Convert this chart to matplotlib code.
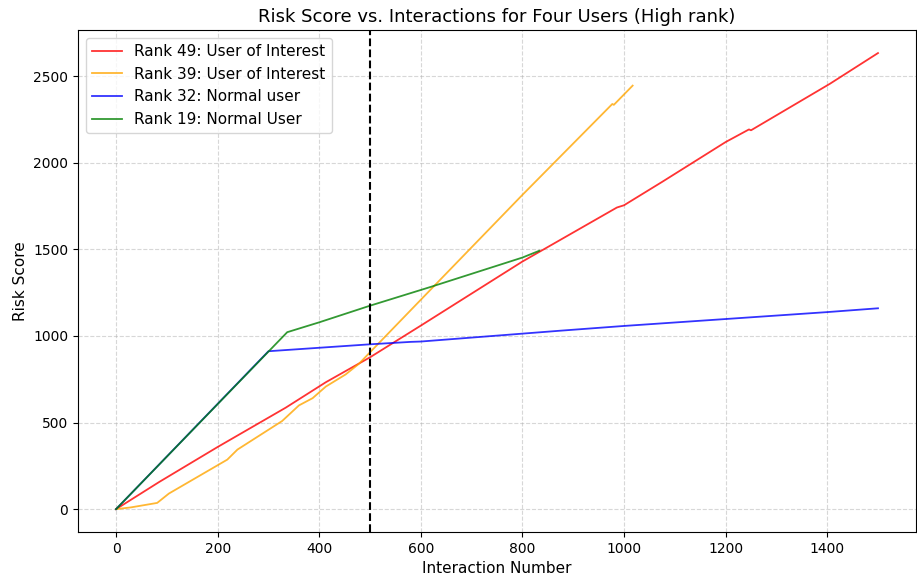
import matplotlib
matplotlib.use("Agg")
import matplotlib.pyplot as plt

rank49_x = [0, 85, 200, 334, 413, 500, 600, 800, 986, 1000, 1075, 1200, 1246, 1250, 1405, 1500]
rank49_y = [0, 157, 359, 586, 733, 877, 1060, 1430, 1742, 1755, 1890, 2120, 2193, 2188, 2456, 2634]

rank39_x = [0, 29, 81, 104, 219, 239, 327, 360, 387, 413, 452, 478, 500, 620, 800, 977, 980, 1017]
rank39_y = [0, 10, 36, 90, 286, 344, 509, 599, 641, 708, 778, 839, 906, 1270, 1815, 2340, 2335, 2446]

rank32_x = [0, 300, 500, 580, 600, 872, 1000, 1200, 1400, 1500]
rank32_y = [0, 912, 952, 966, 968, 1030, 1058, 1098, 1138, 1160]

rank19_x = [0, 337, 400, 500, 620, 800, 833]
rank19_y = [0, 1022, 1079, 1175, 1284, 1453, 1492]

labels = ["Rank 49: User of Interest", "Rank 39: User of Interest",
          "Rank 32: Normal user", "Rank 19: Normal User"]
colors = ["red", "orange", "blue", "green"]
threshold = 500

fig, ax = plt.subplots(figsize=(9.17, 5.82), dpi=100)
fig.subplots_adjust(left=0.085, right=0.999, bottom=0.086, top=0.948)

series = [(rank49_x, rank49_y), (rank39_x, rank39_y), (rank32_x, rank32_y), (rank19_x, rank19_y)]
for (xs, ys), lab, c in zip(series, labels, colors):
    ax.plot(xs, ys, color=c, alpha=0.8, linewidth=1.3, label=lab)

ax.axvline(threshold, color="black", linestyle="--", linewidth=1.5)

ax.set_title("Risk Score vs. Interactions for Four Users (High rank)", fontsize=13)
ax.set_xlabel("Interaction Number", fontsize=11)
ax.set_ylabel("Risk Score", fontsize=11)
ax.grid(True, linestyle="--", alpha=0.5)
ax.legend(loc="upper left", fontsize=11)

fig.savefig("out.png")
